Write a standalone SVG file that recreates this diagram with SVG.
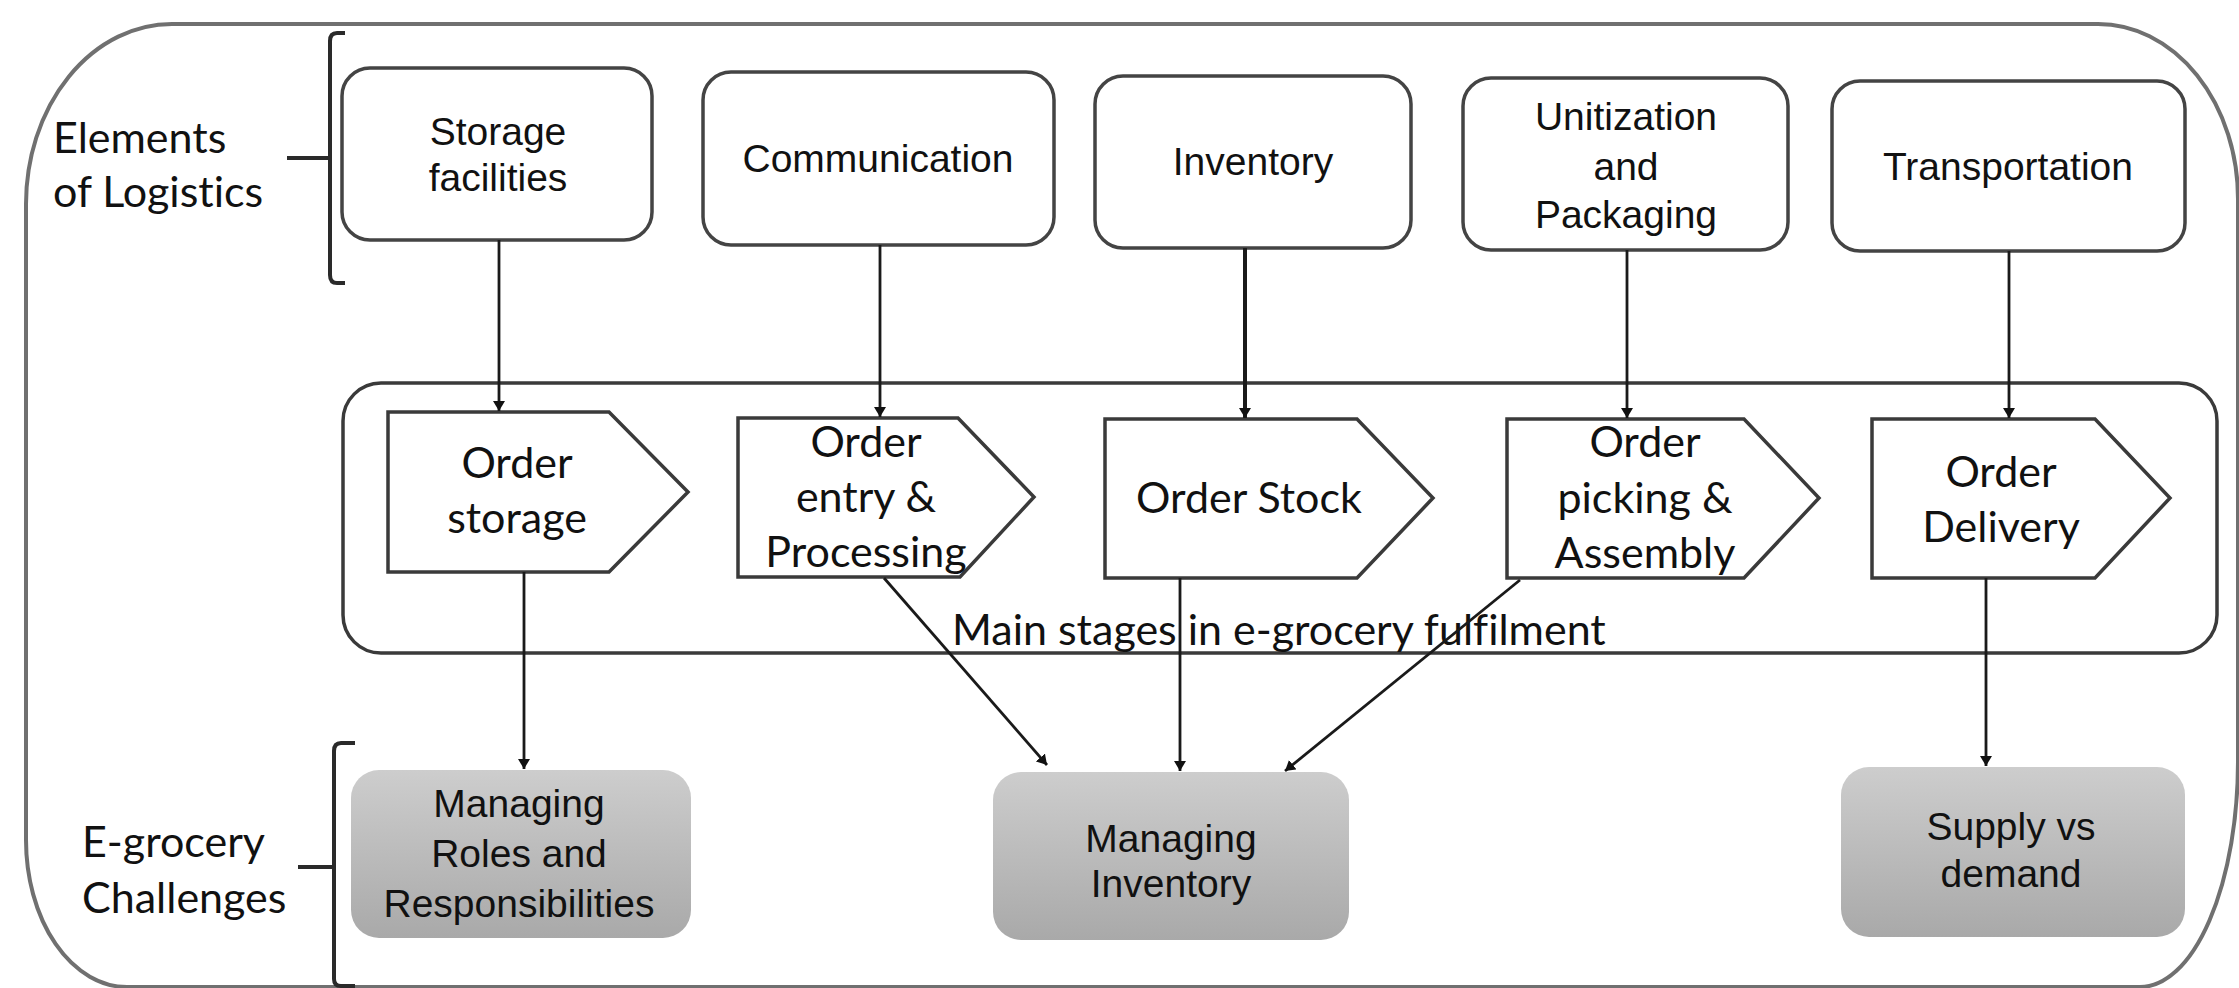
<svg xmlns="http://www.w3.org/2000/svg" width="2239" height="988" viewBox="0 0 2239 988">
<defs>
<linearGradient id="gray" x1="0" y1="0" x2="0" y2="1">
<stop offset="0" stop-color="#cdcdcd"/>
<stop offset="1" stop-color="#a9a9a9"/>
</linearGradient>
<marker id="arr" viewBox="0 0 10 12" refX="10" refY="6" markerWidth="10" markerHeight="12" markerUnits="userSpaceOnUse" orient="auto">
<path d="M0,0 L10,6 L0,12 z" fill="#111"/>
</marker>
<style>
.frame{fill:none;stroke:#707070;stroke-width:4}
.brk{fill:none;stroke:#2a2a2a;stroke-width:4}
.box{fill:#fff;stroke:#444;stroke-width:3.5}
.pent{fill:#fff;stroke:#3a3a3a;stroke-width:3.5;stroke-linejoin:miter}
.chal{fill:url(#gray);stroke:none}
.stage{fill:none;stroke:#3a3a3a;stroke-width:3.5}
.ta{font-family:"Liberation Sans",Arial,sans-serif;font-size:39px;fill:#111;text-anchor:middle}
.tc{font-family:Lato,"Liberation Sans",sans-serif;font-size:43px;fill:#111;text-anchor:middle;font-variant-ligatures:none}
.tl{font-family:Lato,"Liberation Sans",sans-serif;font-size:43px;fill:#111;font-variant-ligatures:none}
.con{fill:none;stroke:#1a1a1a;stroke-width:2.8;marker-end:url(#arr)}
</style>
</defs>
<rect width="2239" height="988" fill="#fff"/>

<path class="frame" d="M172,24 H2098 A140 175 0 0 1 2238,199 V760 A98 226 0 0 1 2140,987 H127 A101 147 0 0 1 26,840 V204 A146 180 0 0 1 172,24 Z"/>

<g id="label-elements">
<path class="brk" d="M345,33 H337 Q330,33 330,41 V275 Q330,283 337,283 H345 M287,158 H330"/>
<text class="tl" x="53" y="153">Elements</text>
<text class="tl" x="53" y="207">of Logistics</text>
</g>

<g id="label-challenges">
<path class="brk" d="M355,743 H341 Q334,743 334,751 V979 Q334,986 341,986 H355 M298,867 H334"/>
<text class="tl" x="82" y="857">E-grocery</text>
<text class="tl" x="82" y="913">Challenges</text>
</g>

<g id="stages-container">
<rect class="stage" x="343" y="383" width="1874" height="270" rx="38" ry="38"/>
<text class="tl" x="952" y="645">Main stages in e-grocery fulfilment</text>
</g>

<g id="n-storage">
<rect class="box" x="342" y="68" width="310" height="172" rx="28"/>
<text class="ta" x="498" y="145">Storage</text>
<text class="ta" x="498" y="191">facilities</text>
</g>
<g id="n-communication">
<rect class="box" x="703" y="72" width="351" height="173" rx="28"/>
<text class="ta" x="878" y="172">Communication</text>
</g>
<g id="n-inventory">
<rect class="box" x="1095" y="76" width="316" height="172" rx="28"/>
<text class="ta" x="1253" y="175">Inventory</text>
</g>
<g id="n-unitization">
<rect class="box" x="1463" y="78" width="325" height="172" rx="28"/>
<text class="ta" x="1626" y="130">Unitization</text>
<text class="ta" x="1626" y="180">and</text>
<text class="ta" x="1626" y="228">Packaging</text>
</g>
<g id="n-transportation">
<rect class="box" x="1832" y="81" width="353" height="170" rx="28"/>
<text class="ta" x="2008" y="180">Transportation</text>
</g>

<g id="s-storage">
<polygon class="pent" points="388,412 609,412 688,492 609,572 388,572"/>
<text class="tc" x="517" y="478">Order</text>
<text class="tc" x="517" y="533">storage</text>
</g>
<g id="s-entry">
<polygon class="pent" points="738,418 958,418 1034,497 960,577 738,577"/>
<text class="tc" x="866" y="457">Order</text>
<text class="tc" x="866" y="512">entry &amp;</text>
<text class="tc" x="866" y="567">Processing</text>
</g>
<g id="s-stock">
<polygon class="pent" points="1105,419 1357,419 1433,498 1357,578 1105,578"/>
<text class="tc" x="1249" y="513">Order Stock</text>
</g>
<g id="s-picking">
<polygon class="pent" points="1507,419 1744,419 1819,498 1744,578 1507,578"/>
<text class="tc" x="1645" y="457">Order</text>
<text class="tc" x="1645" y="513">picking &amp;</text>
<text class="tc" x="1645" y="568">Assembly</text>
</g>
<g id="s-delivery">
<polygon class="pent" points="1872,419 2095,419 2170,498 2095,578 1872,578"/>
<text class="tc" x="2001" y="487">Order</text>
<text class="tc" x="2001" y="542">Delivery</text>
</g>

<g id="c-roles">
<rect class="chal" x="351" y="770" width="340" height="168" rx="28"/>
<text class="ta" x="519" y="817">Managing</text>
<text class="ta" x="519" y="867">Roles and</text>
<text class="ta" x="519" y="917">Responsibilities</text>
</g>
<g id="c-inventory">
<rect class="chal" x="993" y="772" width="356" height="168" rx="28"/>
<text class="ta" x="1171" y="852">Managing</text>
<text class="ta" x="1171" y="897">Inventory</text>
</g>
<g id="c-supply">
<rect class="chal" x="1841" y="767" width="344" height="170" rx="28"/>
<text class="ta" x="2011" y="840">Supply vs</text>
<text class="ta" x="2011" y="887">demand</text>
</g>

<g id="connectors">
<line class="con" x1="499" y1="240" x2="499" y2="411"/>
<line class="con" x1="880" y1="245" x2="880" y2="417"/>
<line class="con" x1="1245" y1="248" x2="1245" y2="418" style="stroke-width:4"/>
<line class="con" x1="1627" y1="250" x2="1627" y2="418"/>
<line class="con" x1="2009" y1="251" x2="2009" y2="418"/>
<line class="con" x1="524" y1="572" x2="524" y2="769"/>
<line class="con" x1="884" y1="578" x2="1047" y2="765"/>
<line class="con" x1="1180" y1="578" x2="1180" y2="771"/>
<line class="con" x1="1520" y1="580" x2="1285" y2="771"/>
<line class="con" x1="1986" y1="578" x2="1986" y2="766"/>
</g>
</svg>
